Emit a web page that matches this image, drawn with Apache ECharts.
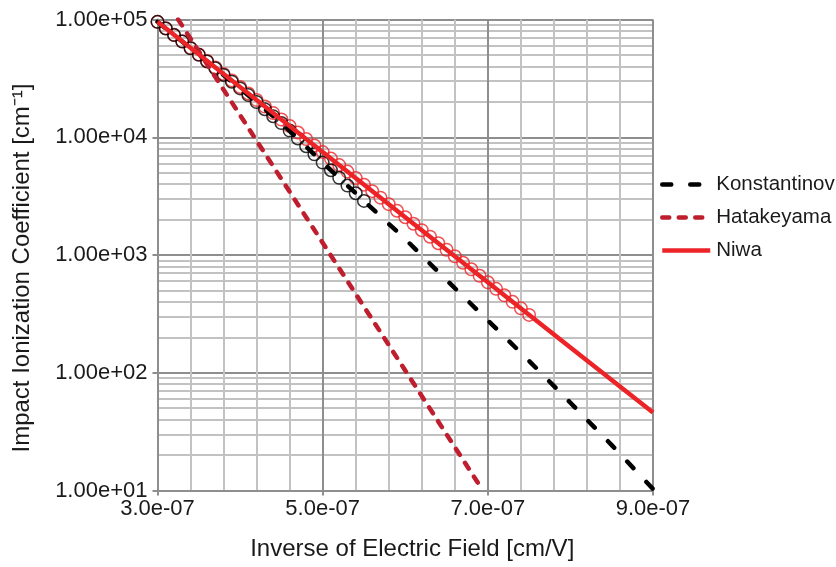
<!DOCTYPE html>
<html><head><meta charset="utf-8">
<script src="https://cdn.jsdelivr.net/npm/echarts@6/dist/echarts.min.js"></script>
<style>html,body{margin:0;padding:0;background:#fff}#c{width:836px;height:567px}</style>
</head><body><div id="c"></div><script>
// x values in cm/V, y values in cm^-1
const xTickLabels = ['3.0e-07', '5.0e-07', '7.0e-07', '9.0e-07'];
const yTickLabels = ['1.00e+01', '1.00e+02', '1.00e+03', '1.00e+04', '1.00e+05'];
const seriesNames = ['Konstantinov', 'Hatakeyama', 'Niwa'];

const konstLineX = [3.0e-7, 3.5e-7, 4.0e-7, 4.5e-7, 5.0e-7, 5.5e-7, 6.0e-7, 6.5e-7, 7.0e-7, 7.5e-7, 8.0e-7, 8.5e-7, 9.0e-7];
const konstLineY = [95500, 50100, 26000, 13200, 6100, 2880, 1365, 612, 279, 126, 55.6, 24.3, 10.3];

const hataLineX = [3.25e-7, 4.0e-7, 5.0e-7, 6.0e-7, 6.94e-7];
const hataLineY = [100000, 15400, 1270, 104.5, 10];

const niwaLineX = [3.0e-7, 4.0e-7, 5.0e-7, 6.0e-7, 7.0e-7, 8.0e-7, 9.0e-7];
const niwaLineY = [95500, 26700, 7480, 2090, 586, 164, 45.9];

const konstPtsX = [3.0e-7,3.1e-7,3.2e-7,3.3e-7,3.4e-7,3.5e-7,3.6e-7,3.7e-7,3.8e-7,3.9e-7,4.0e-7,4.1e-7,4.2e-7,4.3e-7,4.4e-7,4.5e-7,4.6e-7,4.7e-7,4.8e-7,4.9e-7,5.0e-7,5.1e-7,5.2e-7,5.3e-7,5.4e-7,5.5e-7];
const konstPtsY = [95500,83900,73800,64900,57000,50100,44000,38500,33800,29600,26000,22800,19900,17300,15100,13200,11400,9770,8390,7160,6100,5250,4520,3890,3350,2880];

const niwaPtsX = [3.0e-7,3.1e-7,3.2e-7,3.3e-7,3.4e-7,3.5e-7,3.6e-7,3.7e-7,3.8e-7,3.9e-7,4.0e-7,4.1e-7,4.2e-7,4.3e-7,4.4e-7,4.5e-7,4.6e-7,4.7e-7,4.8e-7,4.9e-7,5.0e-7,5.1e-7,5.2e-7,5.3e-7,5.4e-7,5.5e-7,5.6e-7,5.7e-7,5.8e-7,5.9e-7,6.0e-7,6.1e-7,6.2e-7,6.3e-7,6.4e-7,6.5e-7,6.6e-7,6.7e-7,6.8e-7,6.9e-7,7.0e-7,7.1e-7,7.2e-7,7.3e-7,7.4e-7,7.5e-7];
const niwaPtsY = [95500,84100,74050,65200,57400,50530,44490,39170,34490,30370,26730,23540,20720,18250,16070,14150,12450,10960,9651,8499,7482,6588,5800,5107,4497,3959,3486,3069,2702,2379,2094,1844,1624,1430,1259,1108,975.4,858.8,756.2,665.8,586.1,516.1,454.4,400.1,352.2,310.1];

// axis works in units of 1e-7 cm/V, offset from the first tick
const UNIT = 1e7, X0 = 3;
const tx = x => Math.round(x * UNIT * 1e4) / 1e4 - X0;
const pairs = (xs, ys) => xs.map((x, i) => [tx(x), ys[i]]);

const FONT = 'Liberation Sans, Arial, Helvetica, sans-serif';
const TXT = '#1a1a1a';
const MAJOR = '#8e8e8e', MINOR = '#c2c2c2';
const RED = '#ED2427', DARKRED = '#BE1E2D';

const kStyle = {color: '#000', width: 4.5, type: [9, 19], cap: 'round'};
const hStyle = {color: DARKRED, width: 4.5, type: [7, 9.5], cap: 'round'};
const nStyle = {color: RED, width: 4.5};

const chart = echarts.init(document.getElementById('c'), null, {renderer: 'canvas'});
chart.setOption({
  animation: false,
  backgroundColor: '#fff',
  textStyle: {fontFamily: FONT},
  grid: {left: 157.5, right: 183, top: 19.5, bottom: 76.5, containLabel: false},
  legend: {
    data: [
      {name: seriesNames[0], itemStyle: {opacity: 0}, lineStyle: kStyle},
      {name: seriesNames[1], itemStyle: {opacity: 0}, lineStyle: hStyle},
      {name: seriesNames[2], itemStyle: {opacity: 0}, lineStyle: nStyle}
    ],
    orient: 'vertical', left: 660, top: 174,
    itemWidth: 48, itemHeight: 14, itemGap: 12, padding: 0,
    textStyle: {fontSize: 20.5, color: TXT, fontFamily: FONT, padding: [0, 0, 0, 1]}
  },
  xAxis: {
    type: 'value', min: 0, max: 6, interval: 2,
    name: 'Inverse of Electric Field [cm/V]', nameLocation: 'middle', nameGap: 47,
    nameTextStyle: {fontSize: 24, color: TXT, fontFamily: FONT, padding: [0, 0, 0, 14]},
    axisLine: {show: true, lineStyle: {color: MAJOR, width: 2}},
    axisTick: {show: true, length: 5, lineStyle: {color: MAJOR, width: 2}},
    axisLabel: {fontSize: 22, color: TXT, margin: 7, fontFamily: FONT,
      formatter: v => xTickLabels[Math.round(v / 2)]},
    splitLine: {show: true, lineStyle: {color: MAJOR, width: 2}},
    minorTick: {show: false, splitNumber: 5},
    minorSplitLine: {show: true, lineStyle: {color: MINOR, width: 2}}
  },
  yAxis: {
    type: 'log', logBase: 10, min: 10, max: 100000,
    name: 'Impact Ionization Coefficient [cm\u207B\u00B9]', nameLocation: 'middle', nameGap: 123,
    nameTextStyle: {fontSize: 24, color: TXT, fontFamily: FONT, padding: [0, 26, 0, 0]},
    axisLine: {show: true, lineStyle: {color: MAJOR, width: 2}},
    axisTick: {show: true, length: 5, lineStyle: {color: MAJOR, width: 2}},
    axisLabel: {fontSize: 22, color: TXT, margin: 10, fontFamily: FONT,
      formatter: v => yTickLabels[Math.round(Math.log10(v)) - 1]},
    splitLine: {show: true, lineStyle: {color: MAJOR, width: 2}},
    minorTick: {show: false, splitNumber: 9},
    minorSplitLine: {show: true, lineStyle: {color: MINOR, width: 2}}
  },
  series: [
    {name: 'NiwaPts', type: 'scatter', data: pairs(niwaPtsX, niwaPtsY), symbol: 'circle', symbolSize: 12.5,
      itemStyle: {color: 'rgba(0,0,0,0)', borderColor: RED, borderWidth: 1.5}, silent: true, z: 2},
    {name: 'KonstPts', type: 'scatter', data: pairs(konstPtsX, konstPtsY), symbol: 'circle', symbolSize: 12.5,
      itemStyle: {color: 'rgba(0,0,0,0)', borderColor: '#000', borderWidth: 1.5}, silent: true, z: 2},
    {name: seriesNames[0], type: 'line', data: pairs(konstLineX, konstLineY), symbol: 'none',
      lineStyle: kStyle, itemStyle: {color: '#000'}, z: 3},
    {name: seriesNames[1], type: 'line', data: pairs(hataLineX, hataLineY), symbol: 'none',
      lineStyle: hStyle, itemStyle: {color: DARKRED}, z: 3},
    {name: seriesNames[2], type: 'line', data: pairs(niwaLineX, niwaLineY), symbol: 'none',
      lineStyle: nStyle, itemStyle: {color: RED}, z: 4}
  ]
});
</script></body></html>
